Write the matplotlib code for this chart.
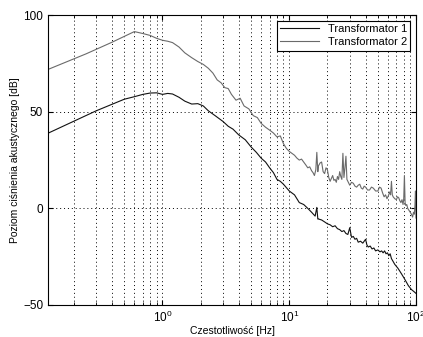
import numpy as np
import matplotlib
matplotlib.use('Agg')
import matplotlib.pyplot as plt

plt.rcParams['font.family'] = ['Liberation Sans', 'DejaVu Sans']

# Transformator 2 (upper, grey)
f2 = [0.126, 0.25, 0.4, 0.5, 0.6, 0.7, 0.8, 0.9, 1.0, 1.1, 1.2, 1.35, 1.5, 1.7,
      1.9, 2.1, 2.3, 2.5, 2.7, 2.9, 3.1, 3.3, 3.5, 3.8, 4.1, 4.4, 4.8, 5.2, 5.6,
      6.0, 6.5, 7.0, 7.5, 8.0, 8.5, 9.0, 9.5, 10, 10.5, 11, 11.5, 12, 12.5, 13,
      13.5, 14, 14.5, 15, 15.4, 15.8, 16.2, 16.5, 16.8, 17, 17.5, 18, 18.5, 19,
      19.5, 20, 20.5, 21, 21.5, 22, 22.5, 23, 23.5, 24, 24.5, 25, 25.5, 26, 26.5,
      27, 27.5, 28, 28.5, 29, 29.5, 30, 31, 32, 33, 34, 35, 36, 37, 38, 39, 40,
      41.5, 43, 44.5, 46, 48, 50, 51.5, 53, 54.5, 56, 57.5, 59, 60.5, 62, 63, 64,
      65, 66, 68, 70, 71.5, 73, 74.5, 76, 77.5, 79, 80, 81, 82, 83, 84.5, 86, 88,
      90, 92, 94, 95.5, 97, 98, 99, 100]
L2 = [72, 80, 86, 89, 91.5, 90.5, 89.5, 88, 87, 86.5, 85.8, 83.5, 80.5, 78,
      76, 74.5, 72.5, 70, 66.5, 65, 62.5, 62, 59, 56, 57, 53, 51.5, 48, 47,
      44, 42, 40.5, 39, 37, 37.5, 33.5, 31, 29.5, 28.5, 27.5, 26, 25, 25.5, 24,
      22.5, 21, 21.5, 19.5, 18.5, 17, 20, 29, 19, 22, 23.5, 24, 19, 18,
      21, 20, 16, 14, 15.5, 17, 14.5, 15, 13.5, 16.5, 15, 19, 16.5, 15, 28.5,
      16, 21, 27, 15, 14, 13, 12, 13.5, 13, 11.5, 11, 12, 12.5, 10.5, 10, 11.5, 11,
      9.5, 9.5, 11, 10.5, 9, 9, 11, 10.5, 8, 6, 7, 5, 6.5, 8.5, 7, 14,
      7, 6, 5, 4.5, 6, 5.5, 4, 3, 4.5, 2, 5, 17, 3, 1.5, 2, 0, -1,
      -2, -3, -4.5, -2, -3, 1, 9, -5]

# Transformator 1 (lower, black)
f1 = [0.126, 0.3, 0.5, 0.6, 0.7, 0.8, 0.9, 1.0, 1.1, 1.2, 1.35, 1.5, 1.7, 1.9,
      2.1, 2.3, 2.6, 3.0, 3.3, 3.6, 4.0, 4.5, 5.0, 5.5, 6.0, 6.5, 7.0, 7.5, 8,
      8.5, 9, 10, 11, 12, 13, 14, 15, 16, 16.5, 16.8, 17, 18, 19, 20, 21, 22,
      23, 24, 25, 26, 27, 28, 29, 30, 31, 32, 33, 34, 35, 36.5, 38, 39, 40, 41,
      42, 43.5, 45, 46.5, 48, 50, 52, 53.5, 55, 56.5, 58, 59.5, 61, 62.5, 64, 66,
      68, 70, 72, 74.5, 77, 79.5, 82, 84.5, 87, 89.5, 92, 94, 96, 98, 100]
L1 = [39, 50.5, 56.5, 57.8, 59, 59.7, 59.8, 59, 59.5, 59.2, 57.5, 55.5, 54, 54.2,
      53, 50.5, 48, 45, 42.5, 41, 38, 35.5, 31.8, 29, 26, 24, 21, 18.5, 15,
      14, 12.5, 9, 7, 3, 2, 0, -2, -4, 0.5, -5.5, -5.5, -6, -7, -8, -8.5, -9.5,
      -9, -10.5, -11, -12, -11.5, -13, -13.5, -10, -15, -14.5, -16, -15.5, -17.5, -17, -18, -17, -16, -19,
      -20, -19.5, -21, -20.5, -22, -21.5, -22.5, -22, -23, -22, -23.5, -23, -24.5, -23.5, -26, -27.5,
      -29, -30, -31, -32.5, -34, -35.5, -37, -38.5, -40, -41, -42, -42.5, -43, -43.5, -44]

fig = plt.figure(figsize=(4.23, 3.37), dpi=100)
ax = fig.add_axes([0.1135, 0.095, 0.87, 0.86])

ax.semilogx(f1, L1, color='#111111', lw=0.8, label='Transformator 1')
ax.semilogx(f2, L2, color='#6a6a6a', lw=0.8, label='Transformator 2')

ax.set_xlim(0.125, 100)
ax.set_ylim(-50, 100)
ax.set_yticks([-50, 0, 50, 100])
ax.grid(True, which='major', linestyle=(0, (1, 3)), color='black', lw=0.7)
ax.grid(True, which='minor', axis='x', linestyle=(0, (1, 3)), color='black', lw=0.7)
ax.tick_params(which='both', direction='in', top=True, right=True, labelsize=8.5)
ax.set_xlabel('Czestotliwość [Hz]', fontsize=7.5, labelpad=1)
ax.set_ylabel('Poziom ciśnienia akustycznego [dB]', fontsize=7.5, labelpad=2)

leg = ax.legend(loc='upper right', fontsize=8, fancybox=False, framealpha=1,
                edgecolor='black', borderaxespad=0.5, handlelength=3.5,
                borderpad=0.3, labelspacing=0.3)
leg.get_frame().set_linewidth(0.8)

fig.savefig('out.png', dpi=100)
